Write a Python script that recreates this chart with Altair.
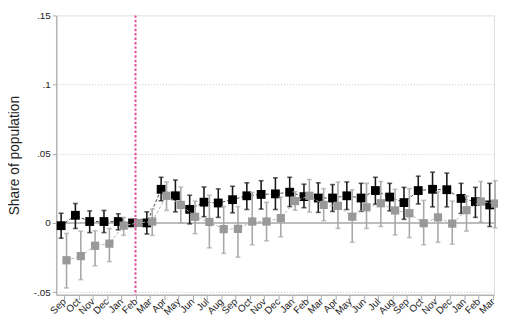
import altair as alt
import pandas as pd

months = ["Sep", "Oct", "Nov", "Dec", "Jan", "Feb", "Mar", "Apr", "May", "Jun",
          "Jul", "Aug", "Sep", "Oct", "Nov", "Dec", "Jan", "Feb", "Mar", "Apr",
          "May", "Jun", "Jul", "Aug", "Sep", "Oct", "Nov", "Dec", "Jan", "Feb", "Mar"]

black_est = [-0.002, 0.0055, 0.001, 0.001, 0.001, 0.0, 0.0, 0.0243, 0.0196, 0.0098,
             0.015, 0.0144, 0.0168, 0.0196, 0.0206, 0.021, 0.0222, 0.019, 0.018, 0.018,
             0.0196, 0.018, 0.0234, 0.0187, 0.0147, 0.0234, 0.0243, 0.024, 0.0177, 0.0154, 0.013]
black_lo = [-0.011, -0.004, -0.007, -0.007, -0.005, 0.0, -0.008, 0.016, 0.008, -0.0007,
            0.0045, 0.004, 0.0073, 0.0097, 0.010, 0.0097, 0.0118, 0.011, 0.0076, 0.0083,
            0.0097, 0.0083, 0.0135, 0.0087, 0.0026, 0.0137, 0.0116, 0.0116, 0.0069, 0.004, -0.0026]
black_hi = [0.007, 0.014, 0.0087, 0.009, 0.0066, 0.0, 0.008, 0.033, 0.031, 0.020,
            0.026, 0.0246, 0.0265, 0.029, 0.0305, 0.0326, 0.033, 0.028, 0.029, 0.0277,
            0.0296, 0.0286, 0.033, 0.0286, 0.0257, 0.0338, 0.0367, 0.036, 0.0286, 0.0257, 0.0286]

gray_est = [-0.027, -0.024, -0.0165, -0.015, -0.002, 0.0, 0.001, 0.0196, 0.013, 0.0044,
            0.0007, -0.0045, -0.0043, 0.001, 0.001, 0.0035, 0.0158, 0.0196, 0.013, 0.0123,
            0.0045, 0.0113, 0.0142, 0.009, 0.007, -0.0002, 0.004, -0.0005, 0.0092, 0.0154, 0.014]
gray_lo = [-0.047, -0.041, -0.031, -0.028, -0.009, 0.0, -0.009, 0.009, 0.0, -0.0078,
           -0.018, -0.022, -0.0248, -0.0158, -0.013, -0.010, 0.0092, 0.0078, 0.0016, -0.004,
           -0.014, -0.004, -0.0026, -0.0087, -0.0106, -0.0158, -0.014, -0.0154, -0.0059, 0.0007, -0.0035]
gray_hi = [-0.0076, -0.006, -0.0057, -0.004, 0.004, 0.0, 0.010, 0.0296, 0.026, 0.0158,
           0.020, 0.0118, 0.0118, 0.022, 0.0149, 0.0187, 0.0225, 0.0314, 0.0248, 0.0296,
           0.024, 0.0286, 0.030, 0.0243, 0.0248, 0.0163, 0.0225, 0.0158, 0.0196, 0.030, 0.0305]

y_ticks = [-0.05, 0, 0.05, 0.1, 0.15]
event_month = 5  # Feb (base period)

idx = list(range(len(months)))
month_js = "[" + ",".join("'%s'" % m for m in months) + "]"

x_scale = alt.Scale(domain=[-0.55, 30.1], nice=False, zero=False)
y_scale = alt.Scale(domain=[-0.052, 0.15], nice=False, zero=False)

x_axis = alt.Axis(values=idx, labelExpr=month_js + "[datum.value]", title=None,
                  labelAngle=-45, labelAlign="right", labelBaseline="middle",
                  labelFontSize=10, labelColor="#222", labelFont="Liberation Sans",
                  tickSize=5, tickColor="#aaa", domainColor="#b5b5b5", domainWidth=1.5,
                  grid=False, labelPadding=0, labelOverlap=False, labelBound=False)
y_axis = alt.Axis(values=y_ticks,
                  labelExpr="datum.value == 0 ? '0' : replace(replace(format(datum.value, '.2~f'), '0.', '.'), '\u2212', '-')",
                  title="Share of population", titleFontSize=14, titleFontWeight="normal",
                  titleFont="Liberation Sans", titleColor="#222", titlePadding=12,
                  labelFontSize=10, labelColor="#222", labelFont="Liberation Sans",
                  tickSize=4, tickColor="#aaa", domainColor="#b5b5b5", domainWidth=1.5,
                  labelPadding=2, labelOverlap=False,
                  grid=True, gridDash=[1, 2], gridColor="#c8c8c8", gridWidth=1,
                  gridOpacity={"condition": {"test": "datum.value > 0.14", "value": 0}, "value": 1})


def X(field="t"):
    return alt.X(field + ":Q", scale=x_scale, axis=x_axis)


def Y(field="est"):
    return alt.Y(field + ":Q", scale=y_scale, axis=y_axis)


def series(est, lo, hi, mcolor, bcolor, lcolor, offset, msize):
    df = pd.DataFrame({"t": idx, "est": est, "lo": lo, "hi": hi})
    base = alt.Chart(df)
    line = base.mark_line(color=lcolor, strokeDash=[3, 2], strokeWidth=1, xOffset=offset).encode(
        x=X(), y=Y())
    bars = base.mark_rule(color=bcolor, strokeWidth=1.6, xOffset=offset).encode(
        x=X(), y=Y("lo"), y2="hi:Q")
    cap_lo = base.mark_tick(color=bcolor, orient="horizontal", size=5, thickness=1.6, xOffset=offset).encode(
        x=X(), y=Y("lo"))
    cap_hi = base.mark_tick(color=bcolor, orient="horizontal", size=5, thickness=1.6, xOffset=offset).encode(
        x=X(), y=Y("hi"))
    pts = base.mark_square(color=mcolor, opacity=1, size=msize, xOffset=offset).encode(
        x=X(), y=Y())
    return [line, bars, cap_lo, cap_hi, pts]


zero = alt.Chart(pd.DataFrame({"est": [0]})).mark_rule(color="#bdbdbd", strokeWidth=2).encode(y=Y())
event = alt.Chart(pd.DataFrame({"t": [event_month]})).mark_rule(
    color="#e0509a", strokeWidth=2, strokeDash=[2.5, 2]).encode(x=X())

black_layers = series(black_est, black_lo, black_hi, "#000000", "#1a1a1a", "#444444", -3, 80)
gray_layers = series(gray_est, gray_lo, gray_hi, "#999999", "#a8a8a8", "#b5b5b5", 2.5, 70)

chart = alt.layer(zero, *black_layers, *gray_layers, event).properties(
    width=445, height=284,
    autosize=alt.AutoSizeParams(type="none"),
    padding={"top": 5, "left": 49, "right": 4, "bottom": 21}
).configure_view(stroke=None).configure(background="white")

chart.save("out.html", embed_options={"renderer": "svg", "actions": False})
